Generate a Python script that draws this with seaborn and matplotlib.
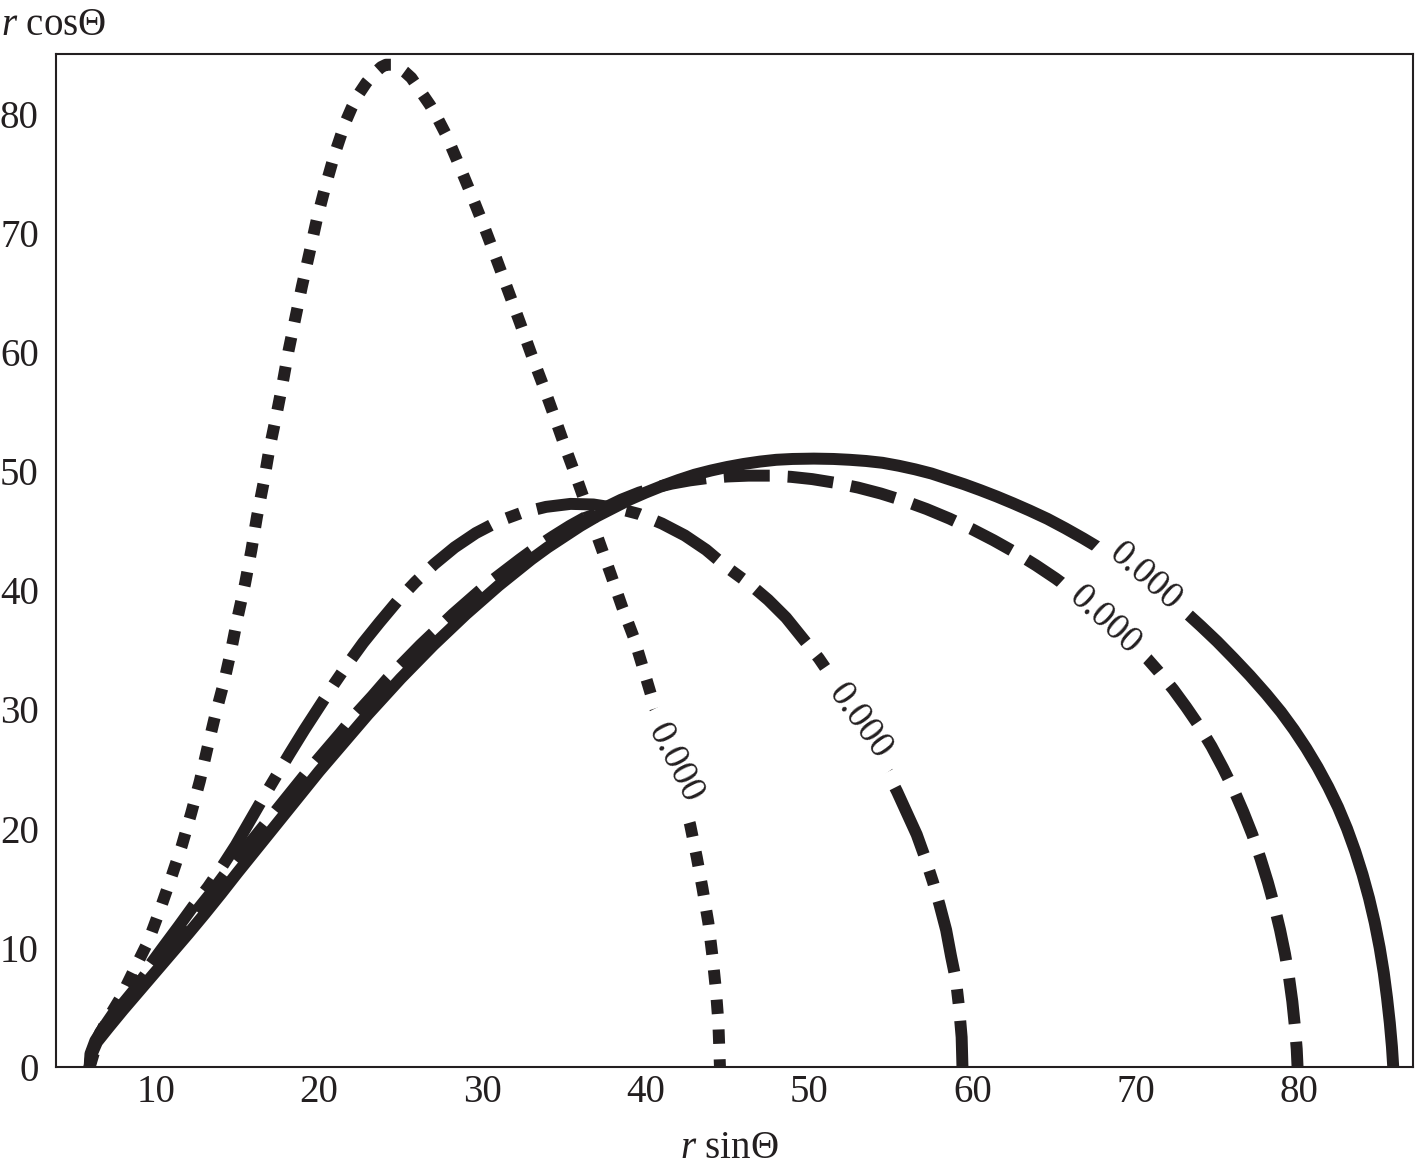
import matplotlib
matplotlib.use("Agg")
import matplotlib.pyplot as plt
import seaborn as sns
import pandas as pd

# ---- data (r sinΘ, r cosΘ) ----
solid_x = [5.95, 6.05, 6.4, 7.1, 8.0, 9.0, 10.0, 11.0, 12.0, 13.0, 14.0, 15.0, 16.0, 17.0, 18.0,
           19.0, 20.0, 21.0, 22.0, 23.0, 24.0, 25.0, 26.0, 27.0, 28.0, 29.0, 30.0, 31.0, 32.0,
           33.0, 34.0, 35.0, 36.0, 37.0, 38.0, 39.0, 40.0, 41.0, 42.0, 43.0, 44.0, 45.0, 46.0,
           47.0, 48.0, 49.0, 50.3, 51.5, 52.5, 53.5, 54.5, 55.5, 56.5, 57.5, 58.5, 59.5, 60.5,
           61.5, 62.5, 63.5, 64.6, 65.7, 66.8, 67.9, 69.0, 70.0, 71.0, 72.0, 73.0, 74.0, 75.0,
           76.0, 77.0, 78.0, 78.9, 79.7, 80.45, 81.15, 81.8, 82.4, 82.95, 83.45, 83.9, 84.3,
           84.65, 84.95, 85.2, 85.4, 85.57, 85.7, 85.78]
solid_y = [0.0, 1.0, 2.1, 3.3, 4.8, 6.4, 8.0, 9.6, 11.2, 12.85, 14.55, 16.3, 18.0, 19.7, 21.4,
           23.1, 24.8, 26.4, 28.0, 29.6, 31.1, 32.6, 34.0, 35.4, 36.7, 38.0, 39.2, 40.4, 41.5,
           42.6, 43.6, 44.5, 45.4, 46.2, 46.9, 47.6, 48.2, 48.75, 49.25, 49.7, 50.05, 50.35, 50.6,
           50.8, 50.95, 51.02, 51.05, 51.02, 50.95, 50.85, 50.7, 50.45, 50.15, 49.8, 49.35, 48.9, 48.4,
           47.87, 47.3, 46.7, 46.0, 45.2, 44.35, 43.45, 42.45, 41.5, 40.45, 39.4, 38.25, 37.0, 35.7,
           34.3, 32.85, 31.3, 29.8, 28.3, 26.75, 25.15, 23.5, 21.8, 20.0, 18.1, 16.15, 14.15,
           12.1, 10.0, 7.9, 5.8, 3.7, 1.7, 0.0]

dashed_x = [5.95, 6.0, 6.3, 6.9, 7.8, 8.7, 9.5, 10.5, 11.4, 12.35, 13.35, 14.3, 15.3, 16.3, 17.3,
            18.3, 19.3, 20.3, 21.3, 22.25, 23.25, 24.2, 25.2, 26.2, 27.2, 28.2, 29.2, 30.2, 31.25,
            32.3, 33.3, 34.3, 35.35, 36.4, 37.45, 38.5, 39.6, 40.6, 41.6, 42.7, 43.8, 45.0, 46.3,
            47.6, 48.9, 50.2, 51.6, 53.0, 54.4, 55.8, 57.2, 58.6, 60.0, 61.3, 62.6, 63.9, 65.1,
            66.3, 67.4, 68.5, 69.5, 70.5, 71.4, 72.3, 73.1, 73.9, 74.65, 75.35, 76.0, 76.6, 77.15,
            77.65, 78.1, 78.5, 78.85, 79.15, 79.4, 79.6, 79.75, 79.87, 79.92]
dashed_y = [0.0, 1.1, 2.2, 3.5, 5.0, 6.5, 8.0, 9.6, 11.2, 12.85, 14.55, 16.3, 18.0, 19.7, 21.4,
            23.1, 24.8, 26.4, 28.0, 29.6, 31.1, 32.6, 34.0, 35.4, 36.7, 38.0, 39.2, 40.4, 41.5,
            42.6, 43.6, 44.5, 45.4, 46.2, 46.9, 47.6, 48.2, 48.62, 48.95, 49.22, 49.42, 49.55, 49.62,
            49.62, 49.52, 49.33, 49.02, 48.62, 48.12, 47.52, 46.82, 46.02, 45.12, 44.2, 43.2, 42.1, 41.0,
            39.8, 38.6, 37.3, 36.0, 34.6, 33.2, 31.7, 30.2, 28.6, 26.9, 25.1, 23.3, 21.4, 19.5,
            17.5, 15.5, 13.5, 11.5, 9.5, 7.5, 5.5, 3.5, 1.5, 0.0]

dashdot_x = [5.95, 6.1, 6.6, 7.4, 8.3, 9.3, 10.37, 11.4, 12.3, 13.2, 14.1, 14.9, 15.7, 16.5,
             17.37, 18.2, 19.1, 20.0, 20.9, 21.8, 22.7, 23.7, 24.8, 25.9, 27.06, 28.3, 29.6,
             31.0, 32.4, 33.9, 35.4, 36.8, 38.2, 39.6, 41.0, 42.4, 43.7, 45.0, 46.3, 47.5,
             48.6, 49.6, 50.6, 51.5, 52.4, 53.2, 54.0, 54.7, 55.4, 56.0, 56.6, 57.1, 57.6,
             58.0, 58.4, 58.7, 59.0, 59.2, 59.35, 59.4]
dashdot_y = [0.0, 1.3, 2.9, 4.5, 6.1, 7.9, 9.9, 11.8, 13.5, 15.1, 16.9, 18.6, 20.5, 22.4,
             24.4, 26.3, 28.3, 30.2, 32.1, 33.9, 35.6, 37.3, 39.1, 40.7, 42.2, 43.6, 44.8,
             45.8, 46.5, 47.0, 47.25, 47.2, 46.9, 46.4, 45.6, 44.6, 43.4, 41.9, 40.6, 39.2,
             37.7, 36.0, 34.3, 32.5, 30.6, 28.8, 26.9, 25.0, 23.1, 21.3, 19.5, 17.6, 15.5,
             13.6, 11.5, 9.3, 7.3, 4.9, 2.5, 0.0]

dotted_x = [5.95, 6.3, 6.87, 7.8, 8.62, 9.56, 10.26, 10.96, 11.59, 12.17, 12.7, 13.17, 13.64,
            14.18, 14.62, 15.04, 15.46, 15.86, 16.2, 16.6, 16.95, 17.36, 17.76, 18.13, 18.54,
            18.95, 19.41, 19.86, 20.37, 20.93, 21.59, 22.0, 22.46, 22.9, 23.4, 23.8, 24.1, 24.5,
            24.9, 25.25, 25.65, 26.2, 26.8, 27.3, 27.79, 28.6, 29.37, 30.14, 30.87, 31.59, 32.3,
            33.0, 33.72, 34.43, 35.1, 35.8, 36.5, 37.2, 37.85, 38.56, 39.27, 39.88, 40.49, 41.1,
            41.6, 42.2, 42.72, 43.13, 43.48, 43.84, 44.09, 44.3, 44.45, 44.55]
dotted_y = [0.0, 1.6, 3.6, 5.7, 8.0, 10.6, 13.2, 15.96, 18.55, 21.3, 24.0, 26.8, 29.5,
            32.3, 35.0, 37.9, 40.5, 43.4, 46.2, 49.0, 51.8, 54.5, 57.3, 60.1, 62.8,
            65.5, 68.3, 71.1, 73.8, 76.5, 79.2, 80.5, 81.7, 82.6, 83.4, 83.9, 84.1, 84.1,
            83.85, 83.5, 83.0, 81.9, 80.7, 79.5, 78.2, 75.6, 73.05, 70.4, 67.76, 65.1, 62.46,
            59.8, 57.2, 54.5, 51.9, 49.3, 46.6, 43.9, 41.4, 38.6, 36.05, 33.3, 30.5, 27.9,
            25.4, 22.9, 20.35, 17.6, 15.0, 12.1, 9.3, 6.5, 3.8, 0.0]

label_text = "0.000"
label_x = [70.6, 68.1, 53.1, 41.8]
label_y = [41.1, 37.5, 29.0, 25.5]
label_rot = [-41.5, -42.5, -54.0, -63.0]

x_ticks = [10, 20, 30, 40, 50, 60, 70, 80]
y_ticks = [0, 10, 20, 30, 40, 50, 60, 70, 80]

# ---- style ----
sns.set_style("white")
plt.rcParams['font.family'] = ['Liberation Serif', 'DejaVu Serif']
plt.rcParams['mathtext.fontset'] = 'custom'
plt.rcParams['mathtext.rm'] = 'Liberation Serif'
plt.rcParams['mathtext.it'] = 'Liberation Serif:italic'

INK = '#231f20'
LW = 8.6

fig = plt.figure(figsize=(14.15, 11.73), dpi=100)
ax = fig.add_axes([55.5 / 1415, 106 / 1173, (1413 - 55.5) / 1415, (1067 - 54) / 1173])

curves = [
    (solid_x, solid_y, None),
    (dashed_x, dashed_y, (0, (3.85, 1.5))),
    (dashdot_x, dashdot_y, (0, (6.1, 1.45, 1.2, 1.45))),
    (dotted_x, dotted_y, (0, (1.2, 1.3))),
]
for xs, ys, ls in curves:
    df = pd.DataFrame({"x": xs, "y": ys})
    sns.lineplot(data=df, x="x", y="y", sort=False, estimator=None, ax=ax,
                 color=INK, linewidth=LW)
    line = ax.lines[-1]
    line.set_solid_joinstyle('round')
    line.set_dash_joinstyle('round')
    line.set_dash_capstyle('butt')
    line.set_solid_capstyle('butt')
    if ls is not None:
        line.set_linestyle(ls)

for lx, ly, rot in zip(label_x, label_y, label_rot):
    ax.text(lx, ly, label_text, rotation=rot, rotation_mode='anchor',
            ha='center', va='center', fontsize=27, color=INK, zorder=5,
            bbox=dict(boxstyle='square,pad=0.42', fc='white', ec='none'))

ax.set_xlim(3.86, 86.99)
ax.set_ylim(0, 85.0)
ax.set_xticks(x_ticks)
ax.set_yticks(y_ticks)
ax.set_xlabel("")
ax.set_ylabel("")
ax.tick_params(axis='both', direction='in', length=9.4, width=1.1, color=INK,
               labelsize=28, labelcolor=INK, top=False, right=False)
ax.tick_params(axis='x', pad=5)
ax.tick_params(axis='y', pad=12)
for sp in ax.spines.values():
    sp.set_visible(True)
    sp.set_linewidth(1.5)
    sp.set_color(INK)

fig.text(729 / 1415, 1 - 1158 / 1173, r"$r$ sinΘ", ha='center', va='baseline',
         fontsize=28, color=INK)
fig.text(1 / 1415, 1 - 35 / 1173, r"$r$ cosΘ", ha='left', va='baseline',
         fontsize=28, color=INK)

fig.savefig("out.png", dpi=100, facecolor='white')
